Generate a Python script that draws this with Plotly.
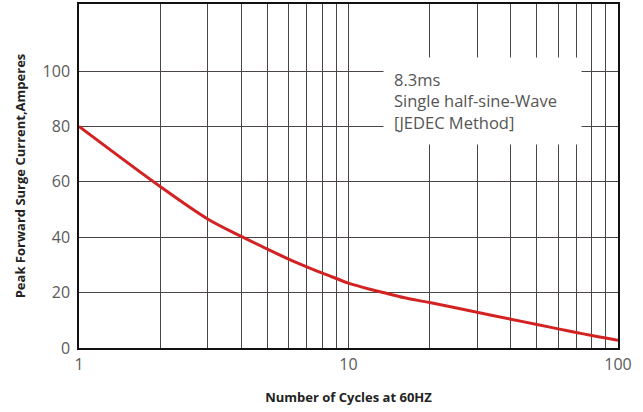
import plotly.graph_objects as go

cycles = [1, 2, 3, 4, 5, 6, 7, 8, 9, 10, 12, 14, 16, 20, 30, 40, 50, 60, 70, 80, 90, 100]
current = [80, 58.3, 46.6, 40.3, 35.7, 32.1, 29.3, 27.0, 25.1, 23.4, 21.2, 19.6, 18.2, 16.4,
           12.9, 10.4, 8.5, 6.9, 5.6, 4.5, 3.6, 2.8]

x_major = [1, 10, 100]
x_major_text = ["1", "10", "100"]
x_minor = [2, 3, 4, 5, 6, 7, 8, 9, 20, 30, 40, 50, 60, 70, 80, 90]
y_ticks = [0, 20, 40, 60, 80, 100]
y_max = 124.2

note_text = "8.3ms<br>Single half-sine-Wave<br>[JEDEC Method]"

fig = go.Figure()
fig.add_trace(go.Scatter(
    x=cycles, y=current, mode="lines",
    line=dict(color="#d32222", width=3, shape="spline", smoothing=0.9),
    showlegend=False, hoverinfo="skip",
))

grid_col = "#4a4444"
fig.update_xaxes(
    type="log", range=[0, 2],
    tickmode="array", tickvals=x_major, ticktext=x_major_text,
    showgrid=True, gridcolor=grid_col, gridwidth=1,
    minor=dict(tickmode="array", tickvals=x_minor, showgrid=True,
               gridcolor=grid_col, gridwidth=1, ticks=""),
    showline=True, linecolor="#111", linewidth=1.5, mirror=True,
    ticks="", ticklabelstandoff=1, automargin=False,
    tickfont=dict(family="Open Sans", size=16, color="#5a5a5a"),
    zeroline=False,
    title=dict(text="<b>Number of Cycles at 60HZ</b>", standoff=19,
               font=dict(family="Open Sans", size=13, color="#222")),
)
fig.update_yaxes(
    range=[0, y_max],
    tickmode="array", tickvals=y_ticks,
    showgrid=True, gridcolor=grid_col, gridwidth=1,
    showline=True, linecolor="#111", linewidth=1.5, mirror=True,
    ticks="", ticklabelstandoff=4, zeroline=False, automargin=False,
    tickfont=dict(family="Open Sans", size=16, color="#5a5a5a"),
    title=dict(text="<b>Peak Forward Surge Current,Amperes</b>", standoff=14,
               font=dict(family="Open Sans", size=13, color="#222")),
)

fig.add_annotation(
    xref="paper", yref="paper", x=0.564, y=0.845,
    xanchor="left", yanchor="top",
    text=note_text, showarrow=False, align="left",
    bgcolor="white", borderpad=10, width=177, height=66,
    font=dict(family="Open Sans", size=16.5, color="#555"),
)

fig.update_layout(
    width=643, height=412,
    margin=dict(l=79, r=25, t=4, b=64),
    plot_bgcolor="white", paper_bgcolor="white",
)

fig.write_html("out.html", config={"displayModeBar": False},
               post_script="document.body.style.margin='0px';")
